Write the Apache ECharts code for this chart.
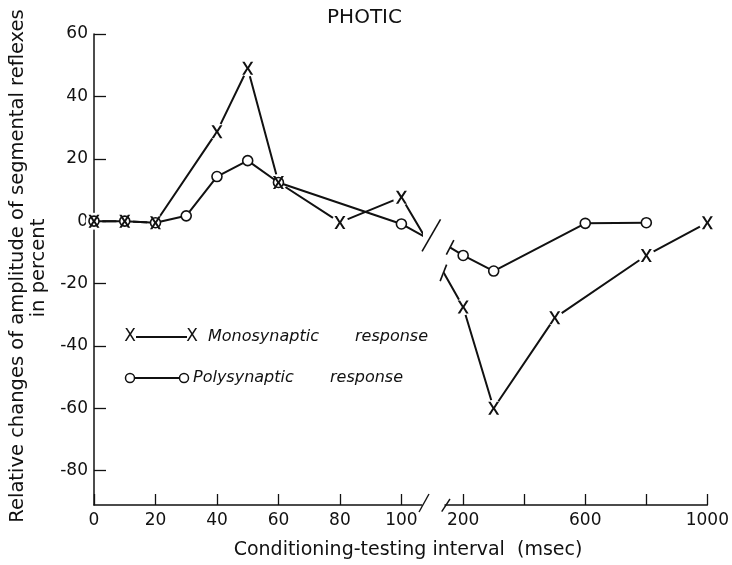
<!DOCTYPE html>
<html><head><meta charset="utf-8">
<script src="https://cdn.jsdelivr.net/npm/echarts@6/dist/echarts.min.js"></script>
<style>html,body{margin:0;padding:0;background:#fff}#c{width:732px;height:565px}</style>
</head><body><div id="c"></div>
<script>
// ---- data (msec, percent) ----
const monoLeftX = [0, 10, 20, 40, 50, 60, 80, 100];
const monoLeftY = [0, 0, -0.5, 28.7, 49, 12.4, -0.4, 7.7];
const monoRightX = [200, 300, 500, 800, 1000];
const monoRightY = [-27.5, -60, -31, -11, -0.5];
const polyLeftX = [0, 10, 20, 30, 40, 50, 60, 100];
const polyLeftY = [0, 0, -0.5, 1.7, 14.3, 19.4, 12.4, -0.9];
const polyRightX = [200, 300, 600, 800];
const polyRightY = [-11, -16, -0.7, -0.5];
// where the lines meet the axis-break marks
const monoBreakLeft = [108.5, -6.5];
const monoBreakRight = [136, -16.5];
const polyBreakLeft = [108.5, -5.5];
const polyBreakRight = [158, -8.5];
// ticks / labels
const xTicksLeft = [0, 20, 40, 60, 80, 100];
const xTicksRight = [200, 400, 600, 800, 1000];
const xLabelsRight = [200, 600, 1000];
const yTicks = [-80, -60, -40, -20, 0, 20, 40, 60];

const zip = (xs, ys) => xs.map((x, i) => [x, ys[i]]);
const INK = '#111';
const FONT = 'DejaVu Sans';
const XPATH = 'path://M0,0L2.2,0L5,4.6L7.8,0L10,0L6.2,6L10,12L7.8,12L5,7.4L2.2,12L0,12L3.8,6Z';

const chart = echarts.init(document.getElementById('c'), null, {renderer: 'canvas'});

const axisLine = {show: true, onZero: false, lineStyle: {color: INK, width: 1.5}};
const labelStyle = {color: INK, fontFamily: FONT, fontSize: 17, formatter: v => String(v)};

function lineSeries(g, data, z) {
  return {type: 'line', xAxisIndex: g, yAxisIndex: g, data, z, clip: false,
    showSymbol: false, symbol: 'none', lineStyle: {color: INK, width: 2}, silent: true};
}
function polySeries(g, data) {
  return {type: 'scatter', xAxisIndex: g, yAxisIndex: g, data, z: 3, clip: false,
    symbol: 'circle', symbolSize: 10,
    itemStyle: {color: '#fff', opacity: 1, borderColor: INK, borderWidth: 1.6}, silent: true};
}
function haloSeries(g, data) {
  return {type: 'scatter', xAxisIndex: g, yAxisIndex: g, data, z: 2, clip: false,
    symbol: 'circle', symbolSize: 17, itemStyle: {color: '#fff', opacity: 1}, silent: true};
}
function xSeries(g, data) {
  return {type: 'scatter', xAxisIndex: g, yAxisIndex: g, data, z: 4, clip: false,
    symbol: XPATH, symbolSize: [11, 13], itemStyle: {color: INK, opacity: 1}, silent: true};
}

chart.setOption({
  animation: false,
  backgroundColor: '#fff',
  grid: [
    {left: 94, top: 34, width: 327.7, height: 471},
    {left: 445, top: 34, width: 264.3, height: 471}
  ],
  xAxis: [
    {type: 'value', gridIndex: 0, min: 0, max: 106.6, axisLine,
      axisTick: {show: true, inside: true, length: 11, lineStyle: {color: INK, width: 1.3}, customValues: xTicksLeft},
      axisLabel: Object.assign({margin: 7, customValues: xTicksLeft}, labelStyle),
      splitLine: {show: false}},
    {type: 'value', gridIndex: 1, min: 140.5, max: 1000, axisLine,
      axisTick: {show: true, inside: true, length: 11, lineStyle: {color: INK, width: 1.3}, customValues: xTicksRight},
      axisLabel: Object.assign({margin: 7, customValues: xLabelsRight}, labelStyle),
      splitLine: {show: false}}
  ],
  yAxis: [
    {type: 'value', gridIndex: 0, min: -91, max: 60, axisLine,
      axisTick: {show: true, inside: true, length: 12, lineStyle: {color: INK, width: 1.3}, customValues: yTicks},
      axisLabel: Object.assign({margin: 6, customValues: yTicks}, labelStyle),
      splitLine: {show: false}},
    {type: 'value', gridIndex: 1, min: -91, max: 60, show: false, splitLine: {show: false}}
  ],
  series: [
    lineSeries(0, zip(monoLeftX, monoLeftY).concat([monoBreakLeft]), 1),
    lineSeries(1, [monoBreakRight].concat(zip(monoRightX, monoRightY)), 1),
    haloSeries(0, zip(monoLeftX, monoLeftY)),
    haloSeries(1, zip(monoRightX, monoRightY)),
    lineSeries(0, zip(polyLeftX, polyLeftY).concat([polyBreakLeft]), 3),
    lineSeries(1, [polyBreakRight].concat(zip(polyRightX, polyRightY)), 3),
    polySeries(0, zip(polyLeftX, polyLeftY)),
    polySeries(1, zip(polyRightX, polyRightY)),
    xSeries(0, zip(monoLeftX, monoLeftY)),
    xSeries(1, zip(monoRightX, monoRightY))
  ]
});

// ---- decorations: break marks, title, legend, axis names ----
const pML = chart.convertToPixel({gridIndex: 0}, monoBreakLeft);
const pPR = chart.convertToPixel({gridIndex: 1}, polyBreakRight);
const pMR = chart.convertToPixel({gridIndex: 1}, monoBreakRight);
const xEndL = chart.convertToPixel({gridIndex: 0}, [106.6, -91]);
const xStartR = chart.convertToPixel({gridIndex: 1}, [140.5, -91]);

function seg(x1, y1, x2, y2, w) {
  return {type: 'line', silent: true, z: 10,
    shape: {x1, y1, x2, y2}, style: {stroke: INK, lineWidth: w || 1.6}};
}
function txt(text, x, y, opts) {
  return {type: 'text', silent: true, z: 10, x, y,
    style: Object.assign({text, fill: INK, font: '16px "' + FONT + '"', textAlign: 'left', textVerticalAlign: 'middle'}, opts || {})};
}
const it = 'italic 16px "' + FONT + '"';

const graphics = [
  // data line breaks
  seg(pML[0] - 5.5, pML[1] + 10, pML[0] + 13, pML[1] - 22),
  seg(pPR[0] - 4, pPR[1] + 7, pPR[0] + 3.5, pPR[1] - 7.5),
  seg(pMR[0] - 3.5, pMR[1] + 8.5, pMR[0] + 3, pMR[1] - 8),
  // axis breaks
  seg(xEndL[0] - 2.7, xEndL[1] + 7, xEndL[0] + 7.3, xEndL[1] - 11, 1.4),
  seg(xStartR[0] - 3.3, xStartR[1] + 6.7, xStartR[0] + 5, xStartR[1] - 6, 1.4),
  // title
  txt('PHOTIC', 364.5, 18, {font: '20px "' + FONT + '"', textAlign: 'center'}),
  // x axis name
  txt('Conditioning-testing interval  (msec)', 408, 550, {font: '19px "' + FONT + '"', textAlign: 'center'}),
  // y axis name
  {type: 'text', silent: true, x: 18, y: 266, rotation: Math.PI / 2,
    style: {text: 'Relative changes of amplitude of segmental reflexes', fill: INK,
      font: '19.5px "' + FONT + '"', textAlign: 'center', textVerticalAlign: 'middle'}},
  {type: 'text', silent: true, x: 39, y: 268, rotation: Math.PI / 2,
    style: {text: 'in percent', fill: INK,
      font: '19.5px "' + FONT + '"', textAlign: 'center', textVerticalAlign: 'middle'}},
  // legend: monosynaptic
  txt('X', 130, 337, {textAlign: 'center', font: '17px "' + FONT + '"'}),
  seg(136, 337, 187, 337, 2),
  txt('X', 192, 337, {textAlign: 'center', font: '17px "' + FONT + '"'}),
  txt('Monosynaptic', 208, 337, {font: it}),
  txt('response', 355, 337, {font: it}),
  // legend: polysynaptic
  seg(135, 378, 179, 378, 2),
  {type: 'circle', silent: true, z: 11, shape: {cx: 130, cy: 378, r: 4.5}, style: {fill: '#fff', stroke: INK, lineWidth: 1.5}},
  {type: 'circle', silent: true, z: 11, shape: {cx: 184, cy: 378, r: 4.5}, style: {fill: '#fff', stroke: INK, lineWidth: 1.5}},
  txt('Polysynaptic', 193, 378, {font: it}),
  txt('response', 330, 378, {font: it})
];
chart.setOption({graphic: graphics});
</script>
</body></html>
